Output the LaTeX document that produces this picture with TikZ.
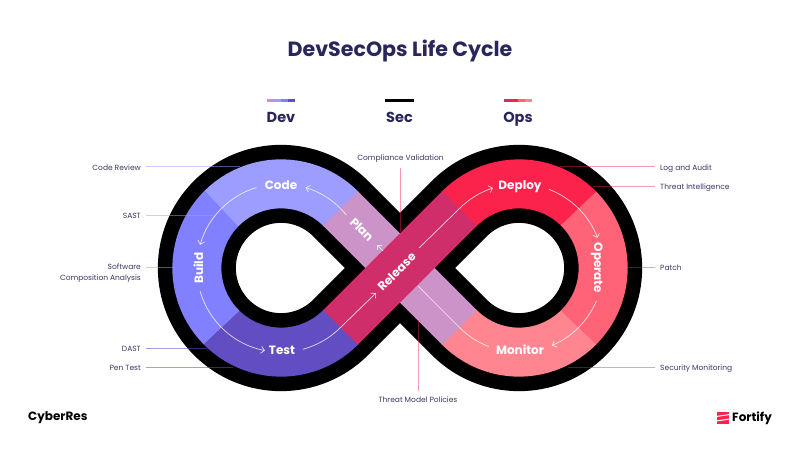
\documentclass[tikz,border=0pt]{standalone}
\usepackage{fontspec}
\setmainfont{Poppins}
\usetikzlibrary{arrows.meta}
\definecolor{navy}{HTML}{29265B}
\definecolor{smalltxt}{HTML}{3A3864}
\definecolor{cplan}{HTML}{CC93C8}
\definecolor{ccode}{HTML}{9D9DFF}
\definecolor{cbuild}{HTML}{8181FF}
\definecolor{ctest}{HTML}{634DC3}
\definecolor{crel}{HTML}{CF2E6B}
\definecolor{cdep}{HTML}{FB234C}
\definecolor{cope}{HTML}{FF6378}
\definecolor{cmon}{HTML}{FF8690}
\tikzset{
  band/.style={line width=49pt},
  step label/.style={text=white,font=\bfseries\fontsize{12}{14}\selectfont,inner sep=0pt,text height=9pt,text depth=1pt},
  flow/.style={white,opacity=.8,line width=.7pt,-{Straight Barb[length=3.5pt,width=7pt,line width=.7pt]}},
  flowplain/.style={white,opacity=.8,line width=.7pt},
  small/.style={text=smalltxt,font=\fontsize{7.5}{11}\selectfont,inner sep=0pt,text height=6pt,text depth=2pt},
  calldev/.style={draw=ccode,opacity=.5,line width=1pt},
  calltest/.style={draw=ctest,opacity=.55,line width=1pt},
  callops/.style={draw=cdep,opacity=.45,line width=1pt},
  legendlabel/.style={text=navy,font=\bfseries\fontsize{14.5}{18}\selectfont,inner sep=0pt,anchor=base}
}
\begin{document}
\begin{tikzpicture}[x=1pt,y=1pt]
\useasboundingbox (0,0) rectangle (800,450);
\fill[white] (0,0) rectangle (800,450);
\coordinate (L) at (281,182);
\coordinate (R) at (519,182);
\coordinate (C) at (400,182);
\coordinate (UL) at (340.5,241.5);
\coordinate (LL) at (340.5,122.5);
\coordinate (UR) at (459.5,241.5);
\coordinate (LR) at (459.5,122.5);
% black figure eight
\draw[black,line width=78pt,line join=round] (C) -- (UR) arc[start angle=135,end angle=-135,radius=84.15pt] -- (C) -- (UL) arc[start angle=45,end angle=315,radius=84.15pt] -- cycle;
% coloured bands, each running a little under the next
\draw[band,ctest] ([shift={(224:84.15pt)}]L) arc[start angle=224,end angle=316,radius=84.15pt];
\draw[band,cbuild] ([shift={(134:84.15pt)}]L) arc[start angle=134,end angle=225,radius=84.15pt];
\draw[band,ccode] ([shift={(44:84.15pt)}]L) arc[start angle=44,end angle=135,radius=84.15pt];
\draw[band,cdep] ([shift={(136:84.15pt)}]R) arc[start angle=136,end angle=44,radius=84.15pt];
\draw[band,cmon] ([shift={(-44:84.15pt)}]R) arc[start angle=-44,end angle=-136,radius=84.15pt];
\draw[band,cope] ([shift={(45:84.15pt)}]R) arc[start angle=45,end angle=-45,radius=84.15pt];
\draw[band,cplan] (UL) -- (LR);
\draw[band,crel] (LL) -- (UR);
% flow arrows
\draw[flow] ([shift={(39:84.15pt)}]L) arc[start angle=39,end angle=73,radius=84.15pt];
\draw[flow] ([shift={(107:84.15pt)}]L) arc[start angle=107,end angle=164,radius=84.15pt];
\draw[flow] ([shift={(196:84.15pt)}]L) arc[start angle=196,end angle=259,radius=84.15pt];
\coordinate (relhead) at (376,157);
\draw[flow] ([shift={(285:84.15pt)}]L) arc[start angle=285,end angle=315,radius=84.15pt] -- (relhead);
\coordinate (reltail) at (419,202);
\draw[flow] (reltail) -- (UR) arc[start angle=135,end angle=108,radius=84.15pt];
\draw[flow] ([shift={(69:84.15pt)}]R) arc[start angle=69,end angle=21,radius=84.15pt];
\draw[flow] ([shift={(-23:84.15pt)}]R) arc[start angle=-23,end angle=-67,radius=84.15pt];
\coordinate (montail) at (418,164);
\draw[flowplain] ([shift={(249:84.15pt)}]R) arc[start angle=249,end angle=225,radius=84.15pt] -- (montail);
\coordinate (plantail) at (383,199);
\coordinate (planhead) at (377,205);
\draw[flow] (plantail) -- (planhead);
% step labels
\node[step label] (code) at (281,264) {Code};
\node[step label,rotate=90] (build) at (199,182) {Build};
\node[step label] (test) at (282,100) {Test};
\node[step label] (deploy) at (520,264) {Deploy};
\node[step label,rotate=-90] (operate) at (598,182) {Operate};
\node[step label] (monitor) at (520,100) {Monitor};
\node[step label,rotate=-45] (plan) at (361.5,220) {Plan};
\node[step label,rotate=45] (release) at (397,178) {Release};
% title, legend
\node[text=navy,font=\bfseries\fontsize{20.6}{24}\selectfont,inner sep=0pt,anchor=base] (title) at (400,393) {DevSecOps Life Cycle};
\foreach \a/\c in {267/cplan,274/ccode,281/cbuild,288/ctest,504/crel,511/cdep,518/cope,525/cmon}
  \fill[\c] (\a,348) rectangle ++(7.3,2.7);
\fill[black] (385,348) rectangle ++(29,2.7);
\node[legendlabel] (dev) at (281,327) {Dev};
\node[legendlabel] (sec) at (399.5,327) {Sec};
\node[legendlabel] (ops) at (518,327) {Ops};
% callout labels
\node[small,anchor=east] (cr) at (141,281) {Code Review};
\node[small,anchor=east] (sast) at (141,233) {SAST};
\node[small,anchor=north east,align=right,text height=,text depth=] (sca) at (141,186) {Software\\Composition Analysis};
\node[small,anchor=east] (dast) at (141,101) {DAST};
\node[small,anchor=east] (pen) at (141,82) {Pen Test};
\node[small] (cv) at (400.5,291) {Compliance Validation};
\node[small] (tm) at (418,50) {Threat Model Policies};
\node[small,anchor=west] (la) at (660,281) {Log and Audit};
\node[small,anchor=west] (ti) at (660,262) {Threat Intelligence};
\node[small,anchor=west] (pa) at (660,181) {Patch};
\node[small,anchor=west] (sm) at (660,82) {Security Monitoring};
% callout lines
\coordinate (crE) at (240,283);
\coordinate (sastE) at (213,234);
\coordinate (scaS) at (146,182);
\coordinate (scaE) at (174,182);
\coordinate (dastE) at (207,102);
\coordinate (penE) at (233,83);
\coordinate (cvE) at (400,218);
\coordinate (tmE) at (418,130);
\coordinate (laE) at (560,283);
\coordinate (tiE) at (593,263);
\coordinate (paE) at (628,182);
\coordinate (smE) at (568,83);
\draw[calldev,shorten <=5pt] (cr.east |- crE) -- (crE);
\draw[calldev,shorten <=5pt] (sast.east |- sastE) -- (sastE);
\draw[calldev] (scaS) -- (scaE);
\draw[calltest,shorten <=5pt] (dast.east |- dastE) -- (dastE);
\draw[calltest,shorten <=5pt] (pen.east |- penE) -- (penE);
\draw[callops,shorten <=5pt] (cv.south -| cvE) -- (cvE);
\draw[callops,shorten <=5pt] (tm.north -| tmE) -- (tmE);
\draw[callops,shorten <=5pt] (la.west |- laE) -- (laE);
\draw[callops,shorten <=5pt] (ti.west |- tiE) -- (tiE);
\draw[callops,shorten <=5pt] (pa.west |- paE) -- (paE);
\draw[callops,shorten <=5pt] (sm.west |- smE) -- (smE);
% logos
\node[text=black,font=\bfseries\fontsize{12}{15}\selectfont,inner sep=0pt,anchor=west] (cyber) at (28,32) {CyberRes};
\node[text=black,font=\bfseries\fontsize{12}{15}\selectfont,inner sep=0pt,anchor=west] (fortify) at (732,32) {Fortify};
\fill[cdep] (717,26) rectangle (728.5,38);
\draw[white,line width=1pt] (716,33.5) -- (730,35.5);
\draw[white,line width=1pt] (716,29) -- (730,31);
\end{tikzpicture}
\end{document}
